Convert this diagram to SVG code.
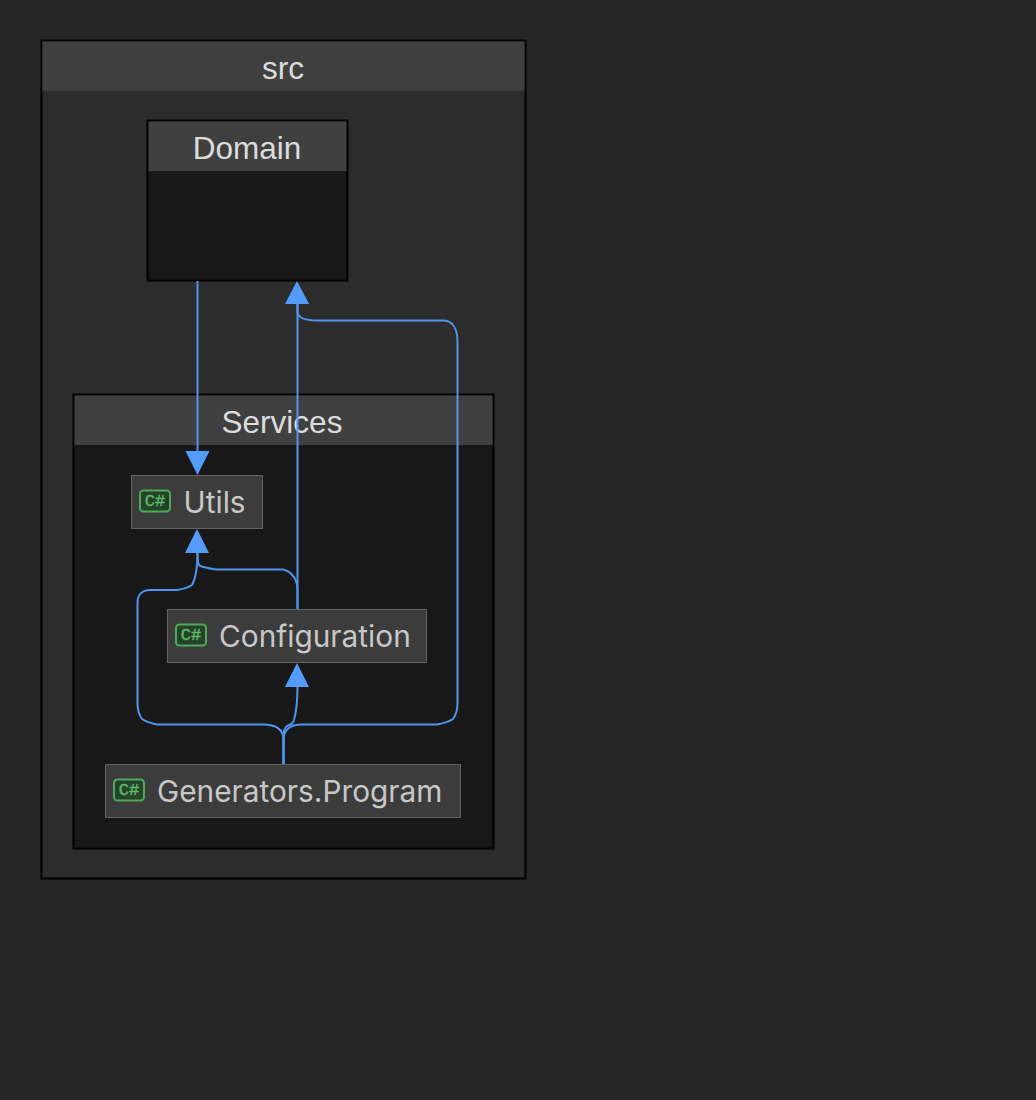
<svg xmlns="http://www.w3.org/2000/svg" width="1036" height="1100" viewBox="0 0 1036 1100">
<style>
.cl{stroke:#000;stroke-width:2}
.hd{fill:#404040}
.ct{font-family:"Liberation Sans",Arial,sans-serif;font-size:31.500px;fill:#dcdcdc;text-anchor:middle}
.nd{fill:#3c3c3c;stroke:#636363;stroke-width:1}
.nt{font-family:Inter,"Liberation Sans",sans-serif;font-size:29.800px;fill:#c8c8c8}
.ic{fill:#26422a;stroke:#4ea95a;stroke-width:2}
.it{font-family:"Liberation Mono",monospace;font-size:17px;fill:#5cba68;stroke:#5cba68;stroke-width:.4;text-anchor:middle}
.ed{fill:none;stroke:#4f94ee;stroke-width:2}
.ah{fill:#539cfb}
</style>
<rect width="1036" height="1100" fill="#262626"/>
<g id="cluster-src">
<rect class="cl" x="41.500" y="40.500" width="484" height="838" fill="#2c2c2c"/>
<rect class="hd" x="42.500" y="41.500" width="482" height="49.500"/>
<text class="ct" x="283" y="79">src</text>
</g>
<g id="cluster-domain">
<rect class="cl" x="147.500" y="120.500" width="200" height="160" fill="#181818"/>
<rect class="hd" x="148.500" y="121.500" width="198" height="49.500"/>
<text class="ct" x="247" y="159">Domain</text>
</g>
<g id="cluster-services">
<rect class="cl" x="73.500" y="394.500" width="420" height="454" fill="#181818"/>
<rect class="hd" x="74.500" y="395.500" width="418" height="49.500"/>
<text class="ct" x="282" y="433">Services</text>
</g>
<g id="connectors">
<path class="ed" d="M197.500 281V453"/>
<path class="ed" d="M297.500 609V304"/>
<path class="ed" d="M283.500 764V740C283.500 730 290 724.500 302 724.500H437C445 723 450 721 453 719C456 715 457.500 710 457.500 703V342C457.500 328 452 320.500 443 320.500H317C305 320.500 298 318 297.500 312V304"/>
<path class="ed" d="M283.500 764V740C283.500 731 284 728 287 726C292 724 293 723 294 720C296 713 297.500 705 297.500 686"/>
<path class="ed" d="M283.500 764V740C283.500 730 277 724.500 263 724.500H157C150 723 145 721 142 719C139 715 137.500 710 137.500 703V603C137.500 595 142 590 150 590H177C184 589 189 587 192 585C196 578 197.500 570 197.500 553"/>
<path class="ed" d="M297.500 609V590C297.500 582 294 572 283 569.500H217C210 569 204 567 200 566C198 564 197.500 562 197.500 553"/>
<polygon class="ah" points="197.500,475 185.500,451 209.500,451"/>
<polygon class="ah" points="297,281 285,304 309,304"/>
<polygon class="ah" points="197,529 185,553 209,553"/>
<polygon class="ah" points="297,663 285,687 309,687"/>
</g>
<g id="node-utils">
<rect class="nd" x="131.500" y="475.500" width="131" height="53"/>
<rect class="ic" x="140" y="490.500" width="30" height="21" rx="3.500"/>
<text class="it" x="155" y="506">C#</text>
<text class="nt" x="183.500" y="513">Utils</text>
</g>
<g id="node-configuration">
<rect class="nd" x="167.500" y="609.500" width="259" height="53"/>
<rect class="ic" x="176" y="624.500" width="30" height="21" rx="3.500"/>
<text class="it" x="191" y="640">C#</text>
<text class="nt" x="219" y="647">Configuration</text>
</g>
<g id="node-generators">
<rect class="nd" x="105.500" y="764.500" width="355" height="53"/>
<rect class="ic" x="114" y="779.500" width="30" height="21" rx="3.500"/>
<text class="it" x="129" y="795">C#</text>
<text class="nt" x="157" y="802">Generators.Program</text>
</g>
</svg>
